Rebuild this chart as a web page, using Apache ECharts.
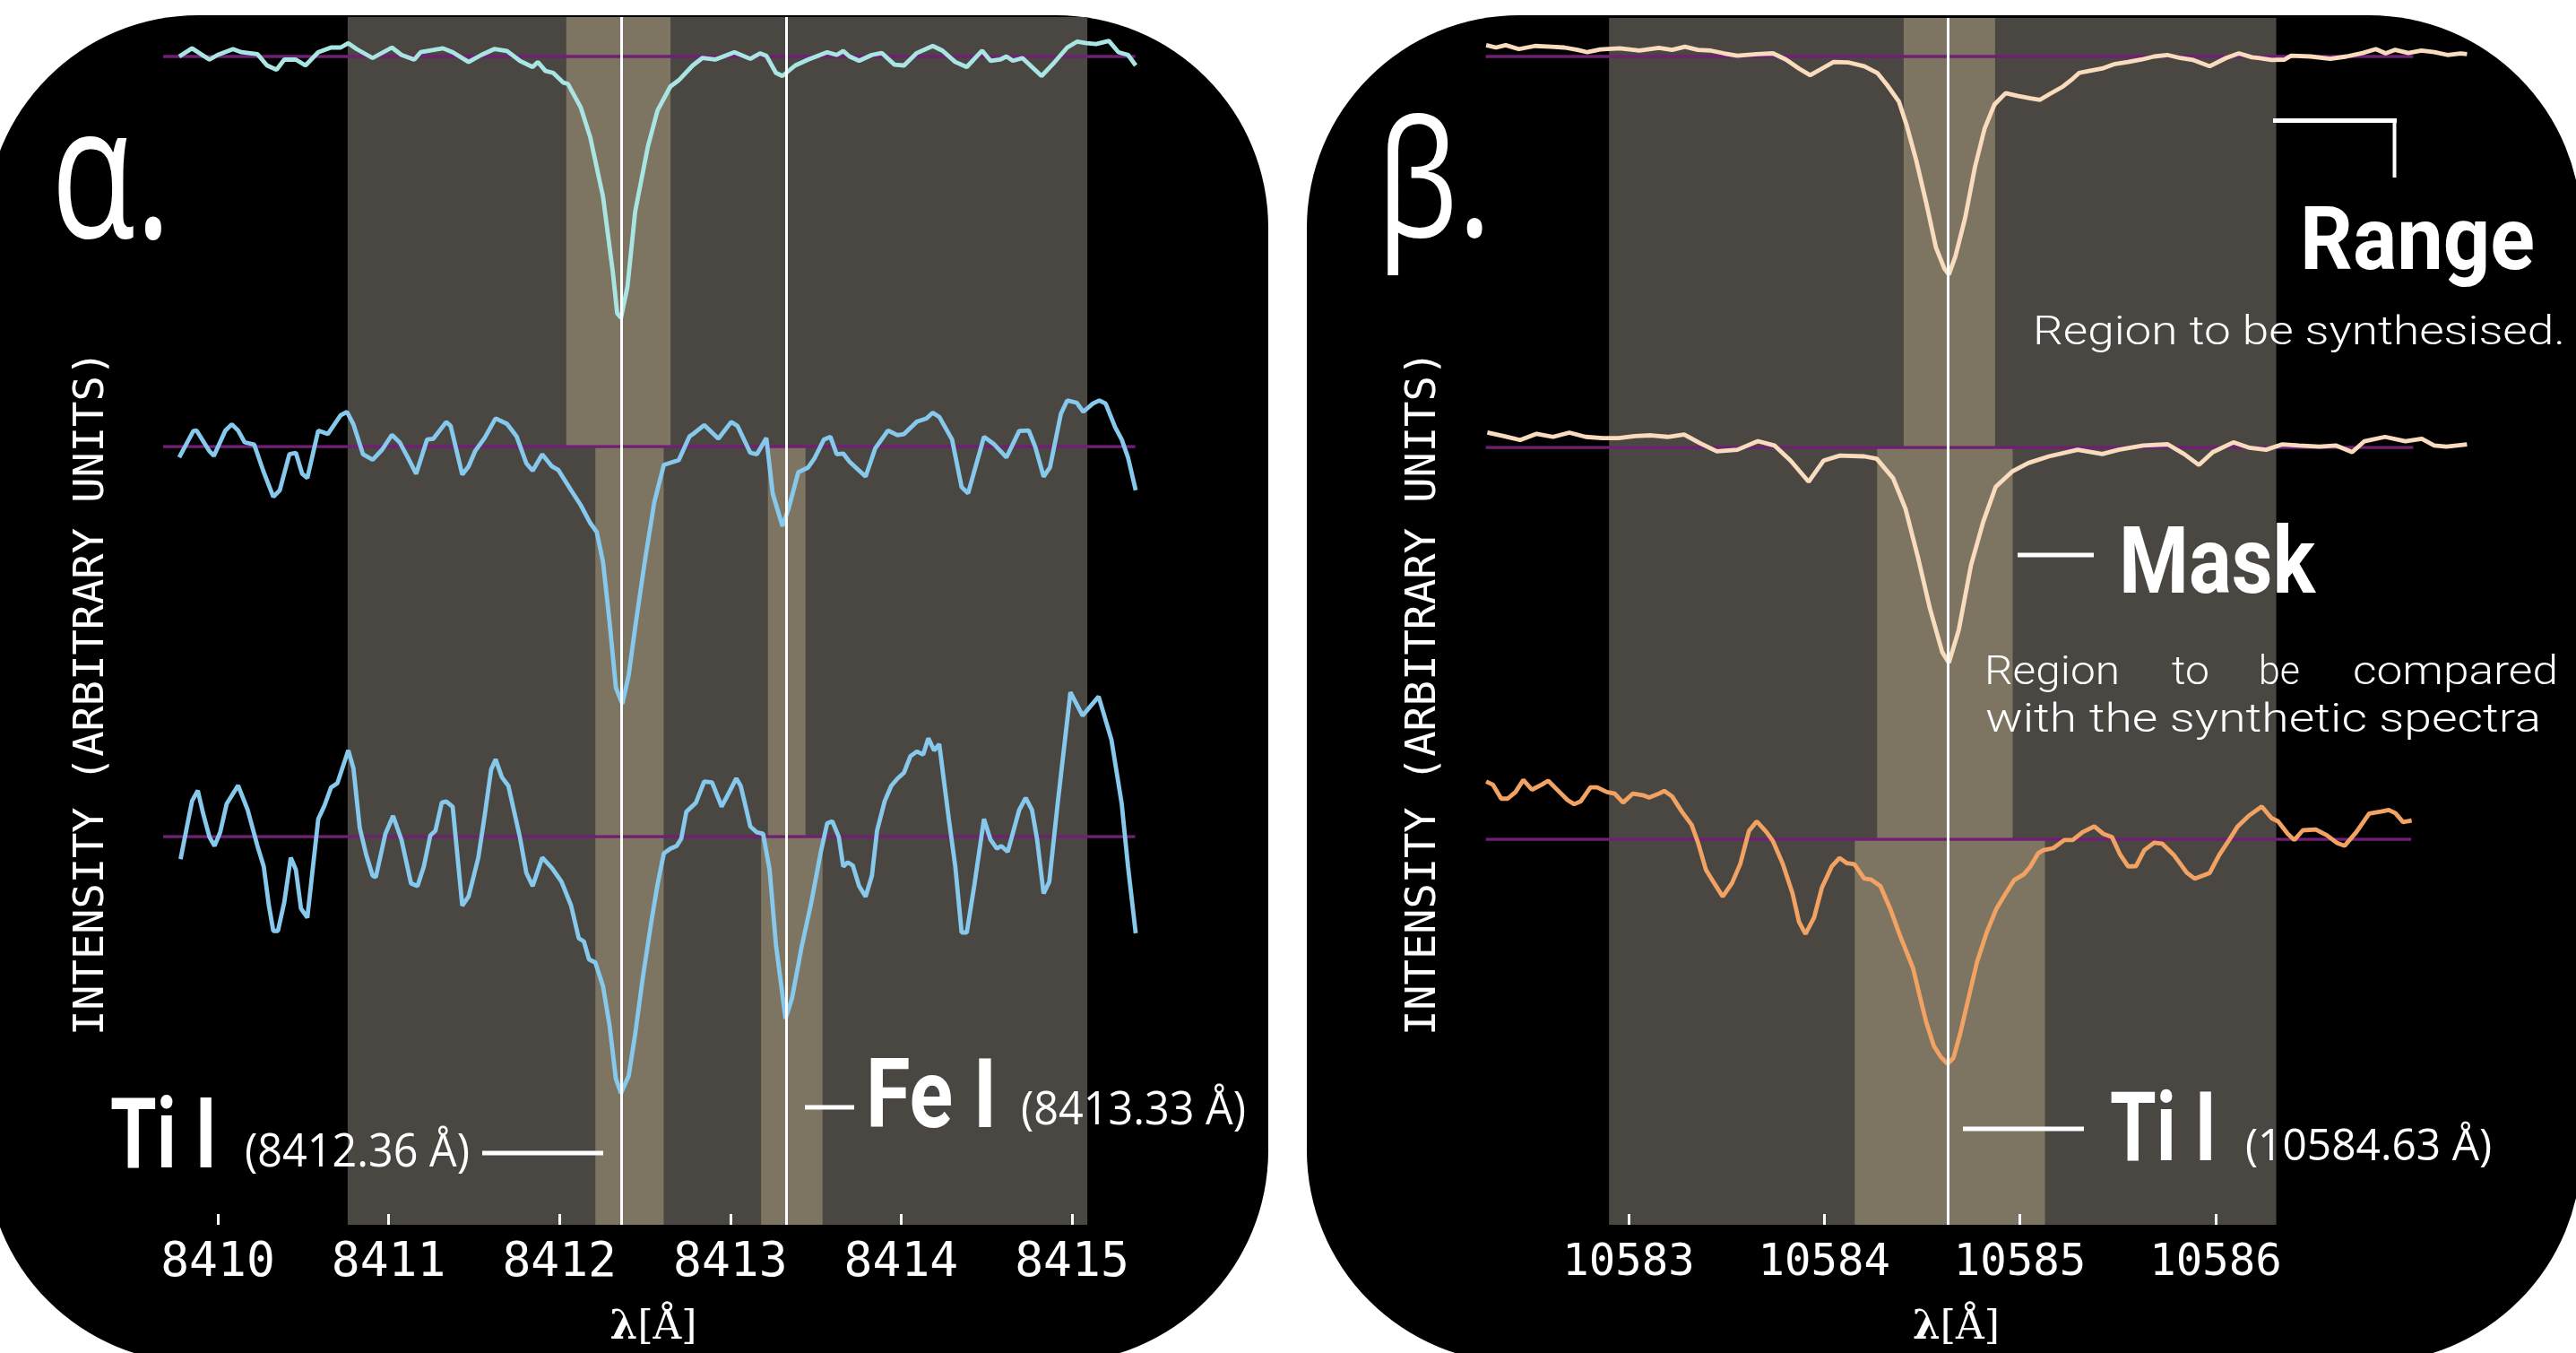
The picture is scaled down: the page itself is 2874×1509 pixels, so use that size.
<!DOCTYPE html>
<html>
<head>
<meta charset="utf-8">
<script src="https://cdn.jsdelivr.net/npm/echarts@6/dist/echarts.min.js"></script>
<style>html,body{margin:0;padding:0;background:#fff;}#c{width:2874px;height:1509px;}</style>
</head>
<body>
<div id="c"></div>
<script>
// ---------------- DATA ----------------
const alphaTicks = [8410, 8411, 8412, 8413, 8414, 8415];
const betaTicks = [10583, 10584, 10585, 10586];
const alphaLineCentres = [8412.36, 8413.33];
const betaLineCentres = [10584.63];
const alphaRange = [8410.76, 8415.09];
const betaRange = [10582.90, 10586.31];
const alphaMasks = [
  [[8412.04, 8412.65]],
  [[8412.21, 8412.61], [8413.22, 8413.44]],
  [[8412.21, 8412.61], [8413.18, 8413.54]]
];
const betaMasks = [
  [[10584.406, 10584.873]],
  [[10584.27, 10584.963]],
  [[10584.156, 10585.128]]
];
const alphaContinuum = [[8409.68, 8415.37], [8409.68, 8415.37], [8409.68, 8415.37]];
const betaContinuum = [[10582.27, 10587.01], [10582.27, 10587.01], [10582.27, 10587.00]];

// spectra: [wavelength (Å), normalised intensity]
const alphaSpecHigh = [[8409.774,1.000],[8409.849,1.021],[8409.951,0.992],[8409.999,1.004],[8410.089,1.019],[8410.138,1.011],[8410.232,1.006],[8410.288,0.977],[8410.344,0.966],[8410.389,0.992],[8410.457,0.992],[8410.513,0.977],[8410.588,1.011],[8410.663,1.023],[8410.719,1.023],[8410.764,1.034],[8410.813,1.019],[8410.906,0.996],[8411.019,1.023],[8411.075,1.004],[8411.150,0.992],[8411.187,1.011],[8411.318,1.021],[8411.375,1.011],[8411.468,0.986],[8411.543,1.004],[8411.618,1.019],[8411.693,1.014],[8411.768,0.989],[8411.843,0.973],[8411.873,0.986],[8411.918,0.963],[8411.963,0.958],[8412.023,0.933],[8412.049,0.930],[8412.124,0.870],[8412.180,0.793],[8412.255,0.640],[8412.312,0.448],[8412.338,0.341],[8412.360,0.330],[8412.398,0.410],[8412.443,0.602],[8412.518,0.770],[8412.574,0.862],[8412.649,0.923],[8412.698,0.939],[8412.780,0.977],[8412.836,0.996],[8412.911,0.992],[8413.024,1.011],[8413.117,0.994],[8413.174,1.008],[8413.211,1.002],[8413.267,0.958],[8413.305,0.950],[8413.380,0.977],[8413.455,0.992],[8413.567,1.011],[8413.623,1.004],[8413.661,1.014],[8413.698,1.000],[8413.754,0.989],[8413.829,1.004],[8413.886,1.009],[8413.961,0.979],[8414.017,0.977],[8414.092,1.009],[8414.185,1.027],[8414.242,1.015],[8414.317,0.986],[8414.384,0.973],[8414.474,1.015],[8414.523,0.989],[8414.579,0.992],[8414.616,1.000],[8414.654,0.989],[8414.710,0.996],[8414.822,0.950],[8414.897,0.985],[8414.972,1.023],[8415.029,1.038],[8415.085,1.034],[8415.141,1.032],[8415.216,1.040],[8415.272,1.011],[8415.328,1.004],[8415.373,0.977]];

const alphaSpecMid = [[8409.774,0.972],[8409.857,1.040],[8409.876,1.041],[8409.951,0.988],[8409.977,0.976],[8410.044,1.041],[8410.082,1.057],[8410.119,1.041],[8410.157,1.011],[8410.213,1.005],[8410.269,0.934],[8410.325,0.871],[8410.363,0.888],[8410.419,0.980],[8410.457,0.984],[8410.494,0.930],[8410.524,0.919],[8410.588,1.041],[8410.644,1.032],[8410.719,1.080],[8410.756,1.089],[8410.794,1.057],[8410.850,0.980],[8410.906,0.966],[8410.962,0.992],[8411.019,1.030],[8411.064,1.011],[8411.112,0.972],[8411.161,0.930],[8411.225,1.018],[8411.262,1.020],[8411.337,1.063],[8411.363,1.053],[8411.431,0.928],[8411.468,0.949],[8411.506,0.988],[8411.562,1.022],[8411.626,1.072],[8411.693,1.058],[8411.749,1.026],[8411.806,0.957],[8411.843,0.938],[8411.899,0.980],[8411.956,0.949],[8411.993,0.940],[8412.068,0.888],[8412.124,0.850],[8412.180,0.804],[8412.218,0.781],[8412.255,0.704],[8412.293,0.551],[8412.330,0.382],[8412.368,0.340],[8412.405,0.413],[8412.443,0.536],[8412.499,0.704],[8412.555,0.857],[8412.611,0.953],[8412.668,0.961],[8412.698,0.965],[8412.761,1.026],[8412.788,1.034],[8412.847,1.055],[8412.930,1.020],[8413.005,1.063],[8413.042,1.053],[8413.117,0.984],[8413.155,0.980],[8413.211,1.022],[8413.248,0.880],[8413.305,0.796],[8413.342,0.842],[8413.398,0.934],[8413.455,0.946],[8413.492,0.969],[8413.548,1.018],[8413.586,1.025],[8413.623,0.980],[8413.661,0.982],[8413.698,0.961],[8413.792,0.923],[8413.848,0.995],[8413.923,1.041],[8413.979,1.029],[8414.017,1.032],[8414.092,1.064],[8414.148,1.072],[8414.185,1.087],[8414.223,1.076],[8414.298,1.018],[8414.354,0.896],[8414.392,0.880],[8414.485,1.025],[8414.541,1.007],[8414.616,0.972],[8414.691,1.040],[8414.747,1.041],[8414.785,0.999],[8414.834,0.923],[8414.871,0.946],[8414.935,1.084],[8414.972,1.118],[8415.029,1.112],[8415.066,1.089],[8415.122,1.110],[8415.160,1.118],[8415.197,1.110],[8415.253,1.049],[8415.291,1.018],[8415.328,0.972],[8415.373,0.888]];

const alphaSpecLow = [[8409.782,0.942],[8409.849,1.091],[8409.883,1.118],[8409.913,1.061],[8409.951,0.999],[8409.981,0.976],[8410.014,1.011],[8410.052,1.084],[8410.119,1.131],[8410.175,1.068],[8410.232,0.976],[8410.269,0.923],[8410.299,0.823],[8410.325,0.758],[8410.352,0.758],[8410.389,0.831],[8410.427,0.946],[8410.457,0.915],[8410.487,0.815],[8410.524,0.792],[8410.588,1.045],[8410.625,1.080],[8410.663,1.126],[8410.700,1.137],[8410.764,1.221],[8410.794,1.175],[8410.831,1.022],[8410.869,0.953],[8410.906,0.900],[8410.925,0.896],[8410.981,1.007],[8411.026,1.053],[8411.075,0.992],[8411.131,0.880],[8411.169,0.873],[8411.206,0.923],[8411.244,1.003],[8411.274,1.015],[8411.311,1.087],[8411.337,1.090],[8411.375,1.076],[8411.431,0.823],[8411.468,0.846],[8411.525,0.946],[8411.562,1.053],[8411.600,1.172],[8411.626,1.198],[8411.663,1.152],[8411.701,1.130],[8411.768,0.999],[8411.806,0.907],[8411.843,0.873],[8411.899,0.946],[8411.956,0.919],[8412.012,0.884],[8412.068,0.823],[8412.113,0.739],[8412.143,0.731],[8412.173,0.685],[8412.210,0.677],[8412.255,0.616],[8412.293,0.516],[8412.330,0.379],[8412.360,0.342],[8412.405,0.386],[8412.443,0.493],[8412.488,0.639],[8412.536,0.777],[8412.574,0.877],[8412.611,0.957],[8412.649,0.969],[8412.686,0.976],[8412.713,0.995],[8412.743,1.064],[8412.799,1.087],[8412.847,1.141],[8412.893,1.139],[8412.949,1.077],[8412.986,1.107],[8413.035,1.149],[8413.061,1.130],[8413.117,1.026],[8413.155,1.011],[8413.192,1.007],[8413.230,0.915],[8413.267,0.723],[8413.323,0.533],[8413.361,0.585],[8413.417,0.716],[8413.474,0.831],[8413.530,0.961],[8413.567,1.034],[8413.597,1.039],[8413.635,0.999],[8413.661,0.923],[8413.687,0.934],[8413.717,0.926],[8413.754,0.873],[8413.792,0.846],[8413.829,0.900],[8413.859,1.015],[8413.904,1.091],[8413.942,1.130],[8413.979,1.149],[8414.017,1.164],[8414.054,1.206],[8414.092,1.218],[8414.129,1.210],[8414.159,1.252],[8414.193,1.221],[8414.223,1.237],[8414.279,1.045],[8414.317,0.923],[8414.354,0.754],[8414.384,0.754],[8414.429,0.877],[8414.485,1.045],[8414.523,0.992],[8414.560,0.969],[8414.586,0.976],[8414.624,0.961],[8414.691,1.068],[8414.729,1.099],[8414.766,1.068],[8414.796,0.992],[8414.834,0.854],[8414.867,0.884],[8414.916,1.084],[8414.991,1.370],[8415.062,1.310],[8415.156,1.359],[8415.231,1.248],[8415.291,1.084],[8415.328,0.923],[8415.373,0.752]];

const betaSpecHigh = [[10582.272,1.029],[10582.322,1.023],[10582.372,1.029],[10582.439,1.019],[10582.522,1.027],[10582.606,1.025],[10582.672,1.023],[10582.739,1.017],[10582.789,1.011],[10582.855,1.018],[10582.955,1.021],[10583.055,1.015],[10583.155,1.022],[10583.222,1.017],[10583.288,1.025],[10583.355,1.017],[10583.422,1.015],[10583.488,1.008],[10583.555,1.002],[10583.655,1.006],[10583.738,1.008],[10583.805,0.992],[10583.871,0.969],[10583.928,0.952],[10583.988,0.969],[10584.048,0.986],[10584.121,0.985],[10584.204,0.975],[10584.271,0.958],[10584.321,0.927],[10584.381,0.885],[10584.421,0.824],[10584.471,0.732],[10584.521,0.625],[10584.571,0.510],[10584.614,0.456],[10584.637,0.441],[10584.670,0.487],[10584.720,0.586],[10584.770,0.716],[10584.820,0.816],[10584.870,0.877],[10584.927,0.906],[10584.987,0.899],[10585.053,0.893],[10585.103,0.889],[10585.153,0.904],[10585.220,0.923],[10585.270,0.943],[10585.303,0.958],[10585.353,0.963],[10585.420,0.969],[10585.486,0.981],[10585.553,0.986],[10585.620,0.992],[10585.686,1.000],[10585.753,1.004],[10585.820,0.996],[10585.886,0.991],[10585.970,0.975],[10586.053,0.996],[10586.119,1.008],[10586.186,0.998],[10586.219,0.996],[10586.286,0.991],[10586.352,0.992],[10586.386,1.002],[10586.486,1.000],[10586.586,0.994],[10586.669,1.000],[10586.752,1.009],[10586.819,1.019],[10586.869,1.008],[10586.918,1.017],[10586.985,1.009],[10587.052,1.015],[10587.118,1.011],[10587.185,1.004],[10587.252,1.008],[10587.285,1.006]];

const betaSpecMid = [[10582.278,1.038],[10582.362,1.029],[10582.446,1.019],[10582.530,1.035],[10582.614,1.027],[10582.697,1.038],[10582.781,1.027],[10582.865,1.024],[10582.949,1.024],[10583.032,1.029],[10583.116,1.031],[10583.200,1.027],[10583.284,1.033],[10583.368,1.010],[10583.451,0.990],[10583.556,0.994],[10583.661,1.016],[10583.745,1.005],[10583.828,0.966],[10583.920,0.912],[10583.996,0.966],[10584.080,0.979],[10584.205,0.977],[10584.268,0.971],[10584.352,0.921],[10584.415,0.843],[10584.478,0.720],[10584.540,0.587],[10584.603,0.475],[10584.637,0.448],[10584.687,0.531],[10584.750,0.698],[10584.813,0.810],[10584.876,0.899],[10584.960,0.938],[10585.043,0.960],[10585.148,0.977],[10585.295,0.994],[10585.421,0.983],[10585.504,0.994],[10585.630,1.005],[10585.755,1.008],[10585.839,0.983],[10585.915,0.955],[10585.986,0.988],[10586.091,1.013],[10586.174,0.999],[10586.258,0.994],[10586.342,1.008],[10586.426,1.005],[10586.531,1.002],[10586.614,1.005],[10586.698,0.988],[10586.761,1.016],[10586.866,1.027],[10586.970,1.016],[10587.054,1.022],[10587.117,1.005],[10587.180,1.002],[10587.285,1.008]];

const betaSpecLow = [[10582.272,1.148],[10582.306,1.140],[10582.349,1.104],[10582.382,1.104],[10582.422,1.121],[10582.462,1.152],[10582.506,1.127],[10582.556,1.140],[10582.589,1.150],[10582.639,1.125],[10582.689,1.100],[10582.722,1.090],[10582.755,1.097],[10582.805,1.133],[10582.839,1.133],[10582.889,1.121],[10582.929,1.117],[10582.972,1.094],[10583.022,1.117],[10583.072,1.113],[10583.105,1.107],[10583.155,1.117],[10583.182,1.124],[10583.222,1.110],[10583.272,1.071],[10583.322,1.037],[10583.355,0.991],[10583.395,0.922],[10583.438,0.887],[10583.481,0.853],[10583.528,0.887],[10583.571,0.937],[10583.615,1.021],[10583.655,1.046],[10583.705,1.018],[10583.738,0.995],[10583.788,0.937],[10583.838,0.861],[10583.871,0.788],[10583.904,0.757],[10583.948,0.799],[10583.988,0.876],[10584.038,0.930],[10584.078,0.952],[10584.114,0.939],[10584.154,0.936],[10584.204,0.899],[10584.238,0.897],[10584.287,0.880],[10584.337,0.822],[10584.387,0.753],[10584.454,0.669],[10584.487,0.600],[10584.521,0.531],[10584.560,0.470],[10584.594,0.443],[10584.630,0.424],[10584.660,0.439],[10584.694,0.500],[10584.737,0.592],[10584.780,0.684],[10584.830,0.761],[10584.880,0.822],[10584.927,0.861],[10584.970,0.895],[10585.020,0.910],[10585.053,0.930],[10585.093,0.964],[10585.120,0.972],[10585.170,0.977],[10585.227,0.998],[10585.270,0.998],[10585.320,1.018],[10585.380,1.033],[10585.426,1.014],[10585.470,1.006],[10585.513,0.960],[10585.553,0.930],[10585.593,0.931],[10585.636,0.972],[10585.686,0.991],[10585.726,0.989],[10585.786,0.960],[10585.853,0.914],[10585.893,0.899],[10585.936,0.907],[10585.969,0.913],[10586.019,0.960],[10586.069,0.998],[10586.113,1.033],[10586.169,1.060],[10586.236,1.084],[10586.286,1.054],[10586.319,1.046],[10586.369,1.014],[10586.402,0.998],[10586.446,1.023],[10586.512,1.025],[10586.569,1.010],[10586.619,0.991],[10586.659,0.983],[10586.719,1.018],[10586.785,1.066],[10586.845,1.071],[10586.885,1.075],[10586.919,1.067],[10586.958,1.044],[10587.002,1.048]];

// ---------------- LAYOUT / STYLE ----------------
const PXU = 435; // vertical pixels per intensity unit
const RANGE_COLOR = '#4a4743';
const MASK_COLOR = '#7d7462';
const CONT_COLOR = '#701f74';

const panels = [
  { ref: 8410, px0: 243, scale: 190.6, view: [8409.6, 8415.5], namePad: [0, 0, 0, 0],
    rows: [{top: 19, cont: 63, bottom: 498}, {top: 498, cont: 498, bottom: 933}, {top: 933, cont: 933, bottom: 1366}],
    spectra: [alphaSpecHigh, alphaSpecMid, alphaSpecLow],
    colors: ['#a9e6e3', '#86c9ec', '#86c9ec'],
    range: alphaRange, masks: alphaMasks, lines: alphaLineCentres, cont: alphaContinuum,
    ticks: alphaTicks, tickFont: 53, tickMargin: 17 },
  { ref: 10583, px0: 1817, scale: 218.3, view: [10582.2, 10587.35], namePad: [0, 44, 0, 0],
    rows: [{top: 20, cont: 63, bottom: 499}, {top: 499, cont: 499, bottom: 936}, {top: 936, cont: 936, bottom: 1366}],
    spectra: [betaSpecHigh, betaSpecMid, betaSpecLow],
    colors: ['#f9dcbd', '#f9dcbd', '#f2a262'],
    range: betaRange, masks: betaMasks, lines: betaLineCentres, cont: betaContinuum,
    ticks: betaTicks, tickFont: 49, tickMargin: 19 }
];

const grid = [], xAxis = [], yAxis = [], series = [];
panels.forEach(p => {
  const l = p.px0 + (p.view[0] - p.ref) * p.scale;
  const r = p.px0 + (p.view[1] - p.ref) * p.scale;
  p.rows.forEach((row, k) => {
    const gi = grid.length;
    grid.push({ left: l, width: r - l, top: row.top, height: row.bottom - row.top, show: false });
    const isBottom = k === p.rows.length - 1;
    xAxis.push({
      gridIndex: gi, type: 'value', min: p.view[0], max: p.view[1], show: isBottom, z: 20,
      axisLine: { show: false }, splitLine: { show: false },
      axisTick: { show: true, inside: true, length: 12, lineStyle: { color: '#ffffff', width: 3 }, customValues: p.ticks },
      axisLabel: { show: true, customValues: p.ticks, color: '#ffffff', fontFamily: 'DejaVu Sans Mono',
                   fontSize: p.tickFont, margin: p.tickMargin, formatter: v => String(v) },
      name: '{l|λ}[Å]', nameLocation: 'middle', nameGap: 94,
      nameTextStyle: { color: '#ffffff', fontFamily: 'DejaVu Serif', fontSize: 44, padding: p.namePad,
        rich: { l: { color: '#ffffff', fontFamily: 'DejaVu Serif', fontSize: 44, fontWeight: 'bold' } } }
    });
    yAxis.push({
      gridIndex: gi, type: 'value', show: false, splitLine: { show: false },
      min: 1 - (row.bottom - row.cont) / PXU, max: 1 + (row.cont - row.top) / PXU
    });
    const areas = [[{ xAxis: p.range[0], itemStyle: { color: RANGE_COLOR } }, { xAxis: p.range[1] }]];
    p.masks[k].forEach(m => areas.push([{ xAxis: m[0], itemStyle: { color: MASK_COLOR } }, { xAxis: m[1] }]));
    series.push({
      type: 'line', xAxisIndex: gi, yAxisIndex: gi, data: [], z: 1, silent: true,
      markArea: { silent: true, data: areas }
    });
    series.push({
      type: 'line', xAxisIndex: gi, yAxisIndex: gi, z: 2, silent: true, symbol: 'none',
      data: [[p.cont[k][0], 1], [p.cont[k][1], 1]],
      lineStyle: { color: CONT_COLOR, width: 3.5, opacity: 1 },
      markLine: { silent: true, symbol: ['none', 'none'], label: { show: false },
        lineStyle: { color: '#ffffff', width: 3, type: 'solid', opacity: 1 },
        data: p.lines.map(v => ({ xAxis: v })) }
    });
    series.push({
      type: 'line', xAxisIndex: gi, yAxisIndex: gi, z: 3, silent: true, symbol: 'none', showSymbol: false,
      clip: false, data: p.spectra[k], lineStyle: { color: p.colors[k], width: 4.8 }
    });
  });
});

// ---------------- TEXT / DECORATION ----------------
const mctx = document.createElement('canvas').getContext('2d');
function txt(text, family, size, weight, x, y, targetW, extra) {
  mctx.font = weight + ' ' + size + 'px ' + family;
  const w = mctx.measureText(text).width;
  const s = targetW ? targetW / w : 1;
  return Object.assign({
    type: 'text', x: x, y: y, scaleX: s, z: 100, silent: true,
    style: { text: text, fontFamily: family, fontSize: size, fontWeight: weight, fill: '#ffffff',
             align: 'left', verticalAlign: 'middle' }
  }, extra || {});
}
function seg(x1, y1, x2, y2, w) {
  return { type: 'line', z: 100, silent: true, shape: { x1, y1, x2, y2 }, style: { stroke: '#ffffff', lineWidth: w } };
}

const graphic = [
  { type: 'rect', z: -10, silent: true, shape: { x: -16, y: 17, width: 1431, height: 1503, r: 237 }, style: { fill: '#000000' } },
  { type: 'rect', z: -10, silent: true, shape: { x: 1458, y: 17, width: 1422, height: 1503, r: 237 }, style: { fill: '#000000' } },
  txt('α.', '"Open Sans"', 207, 'normal', 57, 206, 134),
  txt('β.', '"Open Sans"', 179, 'normal', 1536, 213, 128),
  { type: 'text', x: 103, y: 773, rotation: Math.PI / 2, z: 100, silent: true,
    style: { text: 'INTENSITY (ARBITRARY UNITS)', fontFamily: 'DejaVu Sans Mono', fontSize: 47, fill: '#ffffff', align: 'center', verticalAlign: 'middle' } },
  { type: 'text', x: 1589, y: 773, rotation: Math.PI / 2, z: 100, silent: true,
    style: { text: 'INTENSITY (ARBITRARY UNITS)', fontFamily: 'DejaVu Sans Mono', fontSize: 47, fill: '#ffffff', align: 'center', verticalAlign: 'middle' } },
  // alpha annotations
  txt('Ti I', 'Roboto', 110, 'bold', 123, 1274, 119),
  txt('(8412.36 Å)', '"Open Sans"', 52, 'normal', 273, 1286, 251),
  seg(538, 1286, 673, 1286, 5),
  seg(898, 1235, 953, 1235, 5),
  txt('Fe I', 'Roboto', 107, 'bold', 966, 1230, 146),
  txt('(8413.33 Å)', '"Open Sans"', 52, 'normal', 1139, 1239, 251),
  // beta annotations
  seg(2536, 134.5, 2674, 134.5, 5),
  seg(2671.5, 132, 2671.5, 198, 4),
  txt('Range', 'Roboto', 98, 'bold', 2566, 275, 262),
  txt('Region to be synthesised.', 'Roboto', 44, '300', 2268, 373, 594),
  seg(2251, 619, 2336, 619, 5),
  txt('Mask', 'Roboto', 103, 'bold', 2364, 635, 219),
  txt('Region', 'Roboto', 45, '300', 2214, 752, 151),
  txt('to', 'Roboto', 45, '300', 2423, 752, 42),
  txt('be', 'Roboto', 45, '300', 2520, 752, 46),
  txt('compared', 'Roboto', 45, '300', 2625, 752, 229),
  txt('with the synthetic spectra', 'Roboto', 45, '300', 2215, 805, 620),
  seg(2190, 1259, 2325, 1259, 5),
  txt('Ti I', 'Roboto', 107, 'bold', 2354, 1267, 119),
  txt('(10584.63 Å)', '"Open Sans"', 50, 'normal', 2505, 1280, 275)
];

const chart = echarts.init(document.getElementById('c'), null, { renderer: 'canvas', width: 2874, height: 1509 });
chart.setOption({
  backgroundColor: '#ffffff',
  animation: false,
  grid: grid, xAxis: xAxis, yAxis: yAxis, series: series,
  graphic: graphic
});
</script>
</body>
</html>
